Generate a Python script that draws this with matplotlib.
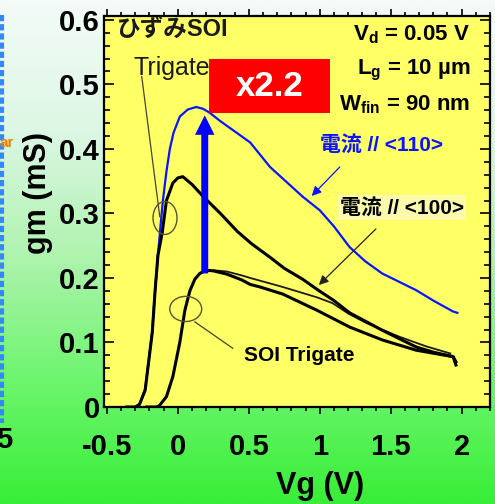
import numpy as np
import matplotlib
matplotlib.use('Agg')
import matplotlib.pyplot as plt
from matplotlib.patches import Ellipse, Rectangle
from matplotlib.colors import LinearSegmentedColormap
from matplotlib.ticker import MultipleLocator

plt.rcParams['font.family'] = ['Liberation Sans', 'Noto Sans CJK JP', 'DejaVu Sans']

# strained SOI trigate, current // <110>  (blue)
vg_110 = [-0.30, -0.27, -0.23, -0.21, -0.18, -0.16, -0.14, -0.12, -0.105, -0.08, -0.056, -0.03,
          0.014, 0.07, 0.13, 0.18, 0.225, 0.3, 0.415, 0.51, 0.65, 0.75, 0.88, 1.0, 1.1, 1.21,
          1.32, 1.44, 1.56, 1.68, 1.8, 1.94, 1.97]
gm_110 = [0.0, 0.004, 0.028, 0.062, 0.118, 0.18, 0.235, 0.285, 0.32, 0.365, 0.40, 0.425,
          0.45, 0.461, 0.465, 0.462, 0.456, 0.443, 0.425, 0.41, 0.372, 0.352, 0.326, 0.305, 0.28, 0.248,
          0.226, 0.207, 0.194, 0.181, 0.165, 0.148, 0.146]

# strained SOI trigate, current // <100>  (black)
vg_100 = [-0.36, -0.30, -0.27, -0.23, -0.21, -0.18, -0.16, -0.14, -0.11, -0.08, -0.035, 0.0, 0.035,
          0.1, 0.18, 0.3, 0.42, 0.52, 0.65, 0.75, 0.88, 0.99, 1.1, 1.21, 1.33, 1.44, 1.56, 1.68,
          1.8, 1.94, 1.96]
gm_100 = [0.0, 0.0, 0.004, 0.026, 0.062, 0.115, 0.18, 0.235, 0.27, 0.32, 0.347, 0.355, 0.357,
          0.345, 0.326, 0.30, 0.272, 0.253, 0.232, 0.215, 0.198, 0.181, 0.165, 0.146, 0.132, 0.119,
          0.106, 0.093, 0.085, 0.078, 0.065]

# SOI trigate (two measurements)
vg_soi_a = [-0.22, -0.15, -0.13, -0.08, -0.035, 0.014, 0.05, 0.085, 0.12, 0.155, 0.2, 0.25, 0.345,
            0.45, 0.51, 0.58, 0.74, 0.98, 1.21, 1.44, 1.68, 1.94, 1.96]
gm_soi_a = [0.0, 0.0, 0.002, 0.016, 0.047, 0.1, 0.15, 0.18, 0.198, 0.207, 0.212, 0.211, 0.206,
            0.197, 0.19, 0.186, 0.175, 0.15, 0.124, 0.104, 0.088, 0.078, 0.07]
vg_soi_b = [0.25, 0.345, 0.45, 0.51, 0.74, 0.98, 1.09, 1.2, 1.33, 1.56, 1.75, 1.92]
gm_soi_b = [0.212, 0.21, 0.204, 0.2, 0.186, 0.17, 0.161, 0.145, 0.13, 0.109, 0.094, 0.083]

fig = plt.figure(figsize=(4.95, 5.04), dpi=100)

# background gradient
bg = fig.add_axes([0, 0, 1, 1])
cmap = LinearSegmentedColormap.from_list('bg', [(0.0, '#f4fbf8'), (0.26, '#dcf7e4'),
                                                (0.5, '#b0f3b0'), (0.75, '#6ff56f'),
                                                (1.0, '#38ee38')])
bg.imshow(np.linspace(0, 1, 256).reshape(-1, 1), aspect='auto', cmap=cmap, extent=[0, 1, 1, 0])
bg.set_xlim(0, 1)
bg.set_ylim(1, 0)
bg.axis('off')
bg.plot([2 / 495, 2 / 495], [15 / 504, 423 / 504], color='#3388ff', lw=3, ls=(0, (1.5, 0.7)))
fig.text(14 / 495, 1 - 143 / 504, 'ar', color='#f08000', fontsize=11, fontweight='bold',
         ha='right', va='center')
fig.text(12 / 495, 1 - 440 / 504, '5', fontsize=21, fontweight='bold', ha='right', va='center')

ax = fig.add_axes([104 / 495, 1 - 407 / 504, 386 / 495, 391 / 504])
ax.set_facecolor('#ffff66')

ax.plot(vg_110, gm_110, color='#0a14ff', lw=1.6, zorder=3)
ax.plot(vg_soi_b, gm_soi_b, color='#1a1a1a', lw=1.3, zorder=3)
ax.plot(vg_soi_a, gm_soi_a, color='black', lw=2.2, zorder=3)
ax.plot(vg_100, gm_100, color='black', lw=2.2, zorder=4)

ax.set_xlim(-0.52, 2.2)
ax.set_ylim(0, 0.606)

ax.xaxis.set_major_locator(MultipleLocator(0.5))
ax.xaxis.set_minor_locator(MultipleLocator(0.1))
ax.yaxis.set_major_locator(MultipleLocator(0.1))
ax.yaxis.set_minor_locator(MultipleLocator(0.02))
ax.set_xticks([-0.5, 0, 0.5, 1, 1.5, 2])
ax.set_xticklabels(['-0.5', '0', '0.5', '1', '1.5', '2'])
ax.set_yticks([0, 0.1, 0.2, 0.3, 0.4, 0.5, 0.6])
ax.set_yticklabels(['0', '0.1', '0.2', '0.3', '0.4', '0.5', '0.6'])
ax.tick_params(axis='x', which='both', direction='out', top=True, bottom=True, width=1.2)
ax.tick_params(axis='x', which='major', length=5, pad=14, labelsize=21)
ax.tick_params(axis='x', which='minor', length=3)
ax.tick_params(axis='y', which='both', direction='in', left=True, right=True, width=1.2)
ax.tick_params(axis='y', which='major', length=7, pad=3, labelsize=21)
ax.tick_params(axis='y', which='minor', length=4)
for lab in ax.get_xticklabels() + ax.get_yticklabels():
    lab.set_fontweight('bold')
for s in ax.spines.values():
    s.set_linewidth(1.6)

ax.set_xlabel('Vg (V)', fontsize=22, fontweight='bold')
ax.xaxis.set_label_coords((320 - 104) / 386, -(471 - 407) / 391)
ax.set_ylabel('gm (mS)', fontsize=22, fontweight='bold')
ax.yaxis.set_label_coords(-(104 - 53) / 386, (407 - 193) / 391)

# x2.2 box and arrow
ax.add_patch(Rectangle((0.218, 0.456), 0.852, 0.084, facecolor='#ff0000', edgecolor='none', zorder=6))
ax.text(0.644, 0.497, 'x2.2', color='white', fontsize=25, fontweight='bold',
        ha='center', va='center', zorder=7)
ax.annotate('', xy=(0.19, 0.452), xytext=(0.19, 0.207),
            arrowprops=dict(facecolor='#0000ff', edgecolor='none', width=5,
                            headwidth=14, headlength=14, shrink=0), zorder=5)

# conditions
ax.text(2.06, 0.577, 'V$_\\mathregular{d}$ = 0.05 V', fontsize=16, fontweight='bold', ha='right', va='center')
ax.text(2.06, 0.522, 'L$_\\mathregular{g}$ = 10 µm', fontsize=16, fontweight='bold', ha='right', va='center')
ax.text(2.06, 0.468, 'W$_\\mathregular{fin}$ = 90 nm', fontsize=16, fontweight='bold', ha='right', va='center')

# labels and callouts
ax.text(-0.43, 0.585, 'ひずみSOI', fontsize=17, fontweight='bold', color='#1a1a1a',
        ha='left', va='center')
ax.text(-0.31, 0.526, 'Trigate', fontsize=18, color='#1a1a1a', ha='left', va='center', zorder=5)
ax.plot([-0.254, -0.127], [0.512, 0.295], color='#444433', lw=0.9)
ax.add_patch(Ellipse((-0.09, 0.293), 0.169, 0.051, fill=False, edgecolor='#555533', lw=1.0, zorder=5))

ax.text(0.47, 0.08, 'SOI Trigate', fontsize=15, fontweight='bold', ha='left', va='center')
ax.plot([0.12, 0.387], [0.132, 0.091], color='#444433', lw=0.9)
ax.add_patch(Ellipse((0.056, 0.152), 0.225, 0.039, fill=False, edgecolor='#555533', lw=1.0, zorder=5))

ax.text(1.0, 0.406, '電流 // <110>', fontsize=15, fontweight='bold', color='#0a14ff',
        ha='left', va='center')
ax.annotate('', xy=(0.93, 0.324), xytext=(1.155, 0.375),
            arrowprops=dict(arrowstyle='-|>', color='#0a14ff', lw=0.9, mutation_scale=14))
ax.text(1.14, 0.309, '電流 // <100>', fontsize=15, fontweight='bold', color='black',
        ha='left', va='center',
        bbox=dict(facecolor='#fbfbb8', edgecolor='none', alpha=0.85, pad=2))
ax.annotate('', xy=(0.98, 0.186), xytext=(1.41, 0.279),
            arrowprops=dict(arrowstyle='-|>', color='#222222', lw=0.9, mutation_scale=14))

fig.savefig('out.png', dpi=100)
